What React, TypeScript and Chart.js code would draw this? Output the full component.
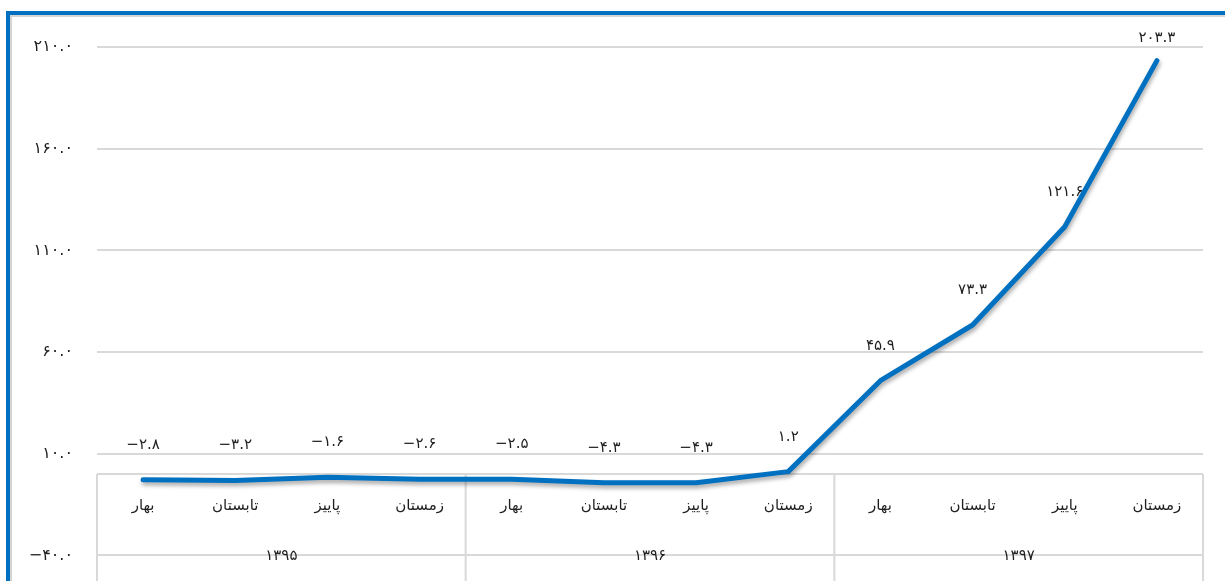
import React, { useEffect, useRef } from "react";
import { Chart, registerables } from "chart.js";

Chart.register(...registerables);

const seasons = ["بهار", "تابستان", "پاییز", "زمستان", "بهار", "تابستان", "پاییز", "زمستان", "بهار", "تابستان", "پاییز", "زمستان"];
const years = ["۱۳۹۵", "۱۳۹۶", "۱۳۹۷"];
const seasonsPerYear = 4;
const growth = [-2.8, -3.2, -1.6, -2.6, -2.5, -4.3, -4.3, 1.2, 45.9, 73.3, 121.6, 203.3];
const yMin = -40;
const yMax = 210;
const yStep = 50;

const FONT = "'DejaVu Sans', sans-serif";
const GRID = "#d9d9d9";
const TEXT = "#1f1f1f";
const BLUE = "#0070C0";

const faDigits = (s: string) =>
  s.replace(/[0-9]/g, (d) => "۰۱۲۳۴۵۶۷۸۹"[Number(d)]).replace(/^-/, "−");
const fmt = (v: number) => faDigits(v.toFixed(1));

const tablePlugin = {
  id: "catTable",
  beforeDatasetsDraw(chart: any) {
    const { ctx, chartArea, scales } = chart;
    const x = scales.x;
    const y = scales.y;
    const y0 = y.getPixelForValue(0);
    const bottom = chart.height;
    const left = chartArea.left;
    const right = chartArea.right;
    const catW = (right - left) / seasons.length;
    ctx.save();
    ctx.strokeStyle = GRID;
    ctx.lineWidth = 2;
    ctx.beginPath();
    ctx.moveTo(left, y0);
    ctx.lineTo(right, y0);
    for (let g = 0; g <= years.length; g++) {
      const gx = left + g * seasonsPerYear * catW;
      ctx.moveTo(gx, y0);
      ctx.lineTo(gx, bottom);
    }
    ctx.stroke();
    ctx.fillStyle = TEXT;
    ctx.font = `15px ${FONT}`;
    ctx.textAlign = "center";
    ctx.textBaseline = "middle";
    seasons.forEach((s, i) => {
      ctx.fillText(s, x.getPixelForValue(i), 506);
    });
    years.forEach((yr, g) => {
      const cx = left + (g * seasonsPerYear + seasonsPerYear / 2) * catW;
      ctx.fillText(yr, cx, 556);
    });
    ctx.restore();
  },
};

const shadowPlugin = {
  id: "lineShadow",
  beforeDatasetDraw(chart: any) {
    const ctx = chart.ctx;
    ctx.save();
    ctx.shadowColor = "rgba(0,0,0,0.35)";
    ctx.shadowBlur = 4;
    ctx.shadowOffsetX = 1;
    ctx.shadowOffsetY = 3;
  },
  afterDatasetDraw(chart: any) {
    chart.ctx.restore();
  },
};

const labelPlugin = {
  id: "dataLabels",
  afterDatasetsDraw(chart: any) {
    const { ctx, chartArea } = chart;
    const meta = chart.getDatasetMeta(0);
    ctx.save();
    ctx.fillStyle = TEXT;
    ctx.font = `15px ${FONT}`;
    ctx.textAlign = "center";
    ctx.textBaseline = "middle";
    meta.data.forEach((pt: any, i: number) => {
      const ly = Math.max(pt.y - 35, chartArea.top - 9);
      ctx.fillText(fmt(growth[i]), pt.x, ly);
    });
    ctx.restore();
  },
};

export default function App() {
  const ref = useRef<HTMLCanvasElement>(null);
  useEffect(() => {
    if (!ref.current) return;
    const chart = new Chart(ref.current, {
      type: "line",
      data: {
        labels: seasons.map((s, i) => `${s}-${i}`),
        datasets: [
          {
            data: growth,
            borderColor: BLUE,
            borderWidth: 5,
            borderJoinStyle: "round",
            borderCapStyle: "round",
            pointRadius: 0,
            tension: 0,
            fill: false,
          },
        ],
      },
      options: {
        animation: false,
        responsive: false,
        maintainAspectRatio: false,
        layout: { padding: { left: 0, right: 22, top: 47, bottom: 10 } },
        plugins: { legend: { display: false }, tooltip: { enabled: false }, title: { display: false } },
        scales: {
          x: { display: false, offset: true },
          y: {
            min: yMin,
            max: yMax,
            border: { display: false },
            grid: { color: GRID, lineWidth: 2, drawTicks: false },
            ticks: {
              stepSize: yStep,
              padding: 24,
              color: TEXT,
              font: { family: FONT, size: 16 },
              callback: (v: any) => fmt(Number(v)),
            },
            afterFit: (scale: any) => {
              scale.width = 97;
            },
          },
        },
      },
      plugins: [tablePlugin, shadowPlugin, labelPlugin],
    } as any);
    return () => chart.destroy();
  }, []);
  return (
    <div style={{ position: "fixed", left: 0, top: 0, width: 1225, height: 581, background: "#fff", overflow: "hidden" }}>
      <div
        style={{
          position: "absolute",
          left: 6,
          top: 11,
          width: 1300,
          height: 700,
          border: `4px solid ${BLUE}`,
          boxShadow: "inset 2px 2px 0 #d4d4d4",
        }}
      />
      <canvas ref={ref} width={1225} height={589} style={{ position: "absolute", left: 0, top: 0 }} />
    </div>
  );
}
